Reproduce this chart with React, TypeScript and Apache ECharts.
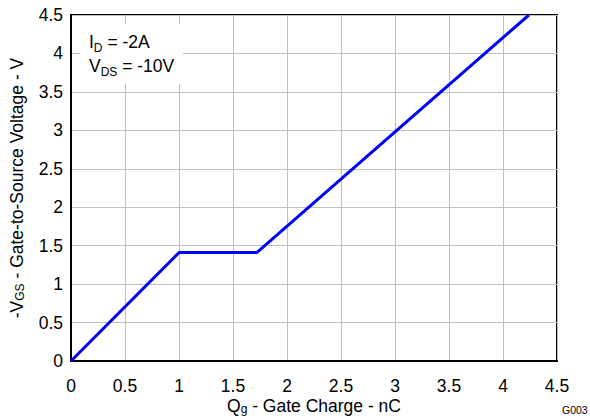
import React, { useEffect, useRef } from "react";
import * as echarts from "echarts";

// Gate charge curve (Qg in nC, -VGS in V)
const gateCharge: number[] = [0, 1.0, 1.72, 4.24];
const gateVoltage: number[] = [0, 1.41, 1.41, 4.5];

const xTicks = { min: 0, max: 4.5, interval: 0.5 };
const yTicks = { min: 0, max: 4.5, interval: 0.5 };

const FONT = "Liberation Sans, Arial, sans-serif";
const FS = 17.5;
const SUB = 12;

const richName = {
  a: { fontSize: FS, color: "#000", fontFamily: FONT },
  s: { fontSize: SUB, color: "#000", fontFamily: FONT, verticalAlign: "bottom", padding: [7, 0, 0, 0] },
};

export default function App() {
  const ref = useRef<HTMLDivElement>(null);

  useEffect(() => {
    if (!ref.current) return;
    const chart = echarts.init(ref.current, undefined, { renderer: "svg" });
    const data = gateCharge.map((q, i) => [q, gateVoltage[i]]);

    chart.setOption({
      animation: false,
      backgroundColor: "#ffffff",
      textStyle: { fontFamily: FONT },
      grid: {
        left: 71,
        right: 33,
        top: 15,
        bottom: 58,
        containLabel: false,
        outerBoundsMode: "none",
        show: true,
        borderColor: "#000000",
        borderWidth: 2,
      },
      xAxis: {
        type: "value",
        min: xTicks.min,
        max: xTicks.max,
        interval: xTicks.interval,
        axisLine: { show: true, onZero: false, lineStyle: { color: "#000", width: 2 } },
        axisTick: { show: false },
        splitLine: { show: true, lineStyle: { color: "#c0c0c0", width: 1 } },
        axisLabel: { color: "#000", fontSize: FS, margin: 16, fontFamily: FONT },
        name: "{a|Q}{s|g}{a| - Gate Charge - nC}",
        nameLocation: "middle",
        nameGap: 35,
        nameMoveOverlap: false,
        nameTextStyle: { rich: richName },
      },
      yAxis: {
        type: "value",
        min: yTicks.min,
        max: yTicks.max,
        interval: yTicks.interval,
        axisLine: { show: true, onZero: false, lineStyle: { color: "#000", width: 2 } },
        axisTick: { show: false },
        splitLine: { show: true, lineStyle: { color: "#c0c0c0", width: 1 } },
        axisLabel: { color: "#000", fontSize: FS, margin: 8, fontFamily: FONT },
        name: "{a|-V}{s|GS}{a| - Gate-to-Source Voltage - V}",
        nameLocation: "middle",
        nameGap: 45,
        nameMoveOverlap: false,
        nameTextStyle: { rich: richName },
      },
      graphic: [
        {
          type: "rect",
          shape: { x: 80, y: 24, width: 103, height: 60 },
          style: { fill: "#ffffff" },
          z: 10,
        },
        {
          type: "text",
          x: 89,
          y: 30,
          z: 11,
          style: {
            text: "{a|I}{s|D}{a| = -2A}\n{a|V}{s|DS}{a| = -10V}",
            fill: "#000",
            verticalAlign: "top",
            rich: {
              a: { fontSize: FS, fontFamily: FONT, lineHeight: 24 },
              s: { fontSize: SUB, fontFamily: FONT, lineHeight: 24, verticalAlign: "bottom", padding: [7, 0, 0, 0] },
            },
          },
        },
        {
          type: "text",
          x: 562,
          y: 404,
          style: { text: "G003", fontSize: 10.5, fontFamily: FONT, fill: "#000", verticalAlign: "top" },
        },
      ],
      series: [
        {
          type: "line",
          data,
          symbol: "none",
          lineStyle: { color: "#0000ff", width: 3 },
          clip: true,
        },
      ],
    });

    return () => chart.dispose();
  }, []);

  return (
    <div style={{ position: "fixed", left: 0, top: 0, width: 590, height: 419 }}>
      <div ref={ref} style={{ width: 590, height: 419 }} />
    </div>
  );
}
